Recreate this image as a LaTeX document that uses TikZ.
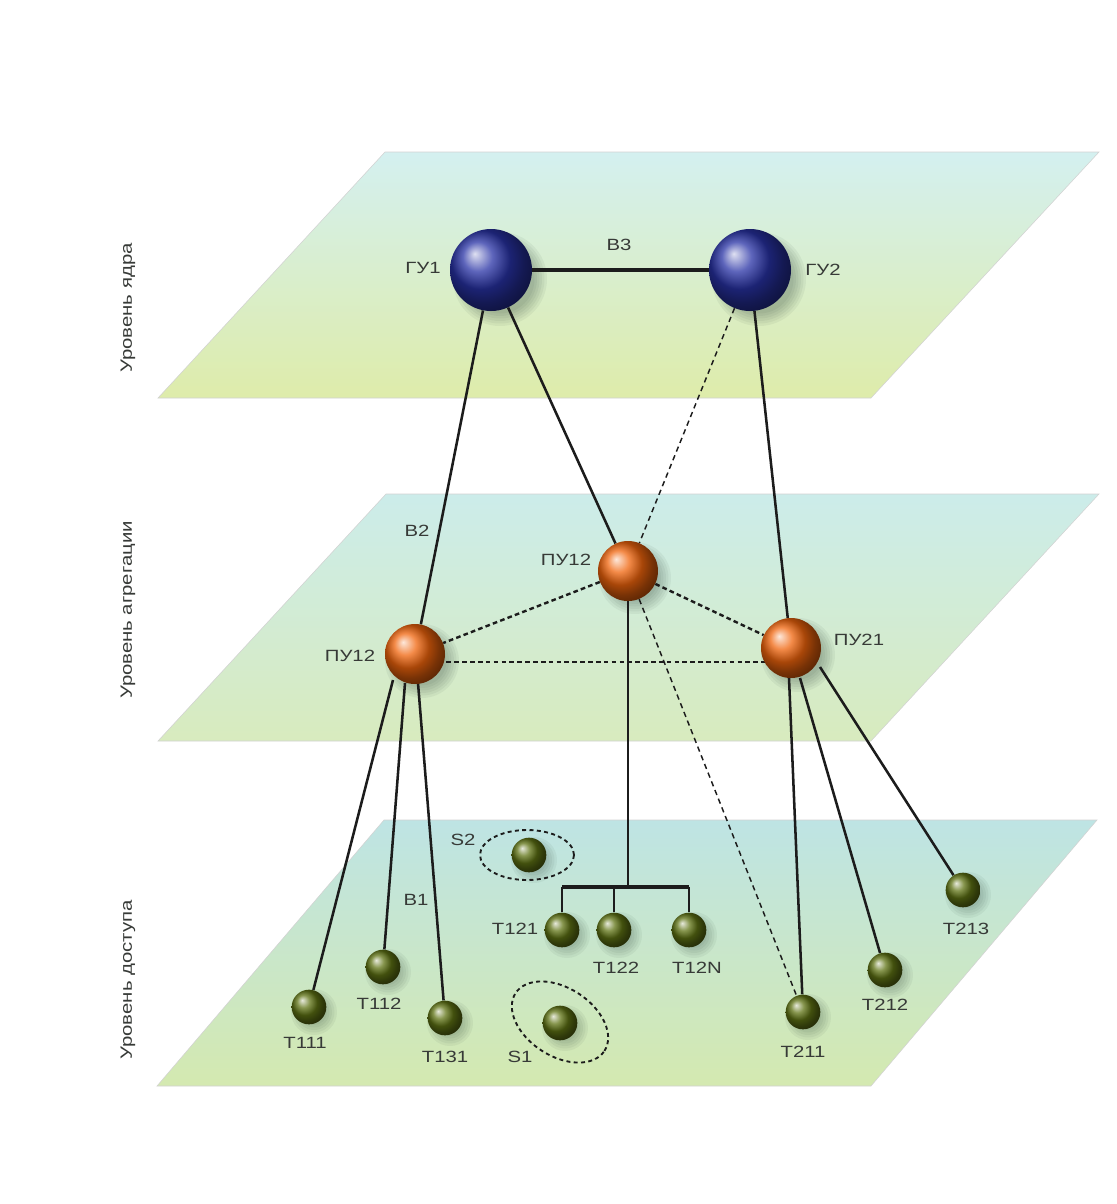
\documentclass[tikz,border=0pt]{standalone}
\usepackage{fontspec}
\setmainfont[FakeStretch=1.25]{Liberation Sans}
\usetikzlibrary{shapes.geometric,calc}
\pgfdeclarelayer{planes}
\pgfdeclarelayer{shadows}
\pgfdeclarelayer{wires}
\pgfsetlayers{planes,shadows,wires,main}
\definecolor{labcol}{RGB}{55,58,55}
\definecolor{linecol}{RGB}{28,28,28}
\definecolor{corecol}{RGB}{40,50,165}
\definecolor{aggcol}{RGB}{240,100,12}
\definecolor{termcol}{RGB}{95,115,20}
\definecolor{shcol}{RGB}{40,60,50}
\definecolor{pAtop}{RGB}{212,240,240}
\definecolor{pAbot}{RGB}{222,236,170}
\definecolor{pBtop}{RGB}{204,236,234}
\definecolor{pBbot}{RGB}{216,235,190}
\definecolor{pCtop}{RGB}{190,228,228}
\definecolor{pCbot}{RGB}{212,233,176}
\begin{document}
\begin{tikzpicture}[x=0.75pt,y=-0.75pt,
  lbl/.style={font=\fontsize{12.2}{14}\selectfont, text=labcol, inner sep=0pt},
  vlbl/.style={lbl, rotate=90},
  core/.style={circle, ball color=corecol, minimum size=61.5pt, inner sep=0pt},
  agg/.style={circle, ball color=aggcol, minimum size=45pt, inner sep=0pt},
  term/.style={circle, ball color=termcol, minimum size=26pt, inner sep=0pt},
  plane/.style={draw=gray!35, line width=0.4pt},
  link/.style={draw=linecol, line width=1.9pt},
  trunk/.style={draw=linecol, line width=2.6pt},
  backup/.style={draw=linecol, line width=1.8pt, dash pattern=on 3.5pt off 2.4pt},
  tdash/.style={draw=linecol, line width=1.1pt, dash pattern=on 4pt off 3pt},
  grp/.style={ellipse, draw=linecol, line width=1.4pt, dash pattern=on 3pt off 2.5pt, inner sep=0pt}
]
\useasboundingbox (0,0) rectangle (1117,1204);

% planes
\begin{pgfonlayer}{planes}
\fill[white] (0,0) rectangle (1117,1204);
\path[plane, top color=pAtop, bottom color=pAbot] (385,152) -- (1099,152) -- (871,398) -- (158,398) -- cycle;
\path[plane, top color=pBtop, bottom color=pBbot] (386,494) -- (1099,494) -- (871,741) -- (158,741) -- cycle;
\path[plane, top color=pCtop, bottom color=pCbot] (384,820) -- (1097,820) -- (871,1086) -- (157,1086) -- cycle;
\end{pgfonlayer}

% level labels
\node[vlbl] (lcore) at (128,308) {Уровень ядра};
\node[vlbl] (lagg) at (128,610) {Уровень агрегации};
\node[vlbl] (lacc) at (128,980) {Уровень доступа};

% spheres
\node[core] (g1) at (491,270) {};
\node[core] (g2) at (750,270) {};
\node[agg] (pu) at (628,571) {};
\node[agg] (pl) at (415,654) {};
\node[agg] (pr) at (791,648) {};
\node[term] (t111) at (309,1007) {};
\node[term] (t112) at (383,967) {};
\node[term] (t131) at (445,1018) {};
\node[term] (s2) at (529,855) {};
\node[term] (t121) at (562,930) {};
\node[term] (t122) at (614,930) {};
\node[term] (t12n) at (689,930) {};
\node[term] (s1) at (560,1023) {};
\node[term] (t211) at (803,1012) {};
\node[term] (t212) at (885,970) {};
\node[term] (t213) at (963,890) {};

% soft shadows
\begin{pgfonlayer}{shadows}
\foreach \n/\r/\d in {g1/41/9, g2/41/9, pu/30/7, pl/31/7, pr/31/7,
  t111/17/5, t112/17/5, t131/17/5, s2/17/5, t121/17/5, t122/17/5, t12n/17/5,
  s1/17/5, t211/17/5, t212/17/5, t213/17/5}{
  \foreach \k in {0,...,5}{
    \fill[shcol, opacity=0.06] ($(\n)+(\d,\d)$) circle ({\r+6-2.5*\k});
  }
}
\end{pgfonlayer}

% groups
\node[grp, minimum width=70.5pt, minimum height=37.5pt] (s2g) at (527,855) {};
\node[grp, minimum width=79.5pt, minimum height=51pt, rotate=-33] (s1g) at (560,1022) {};

% labels
\node[lbl] (lg1) at (423,268) {ГУ1};
\node[lbl] (lg2) at (823,270) {ГУ2};
\node[lbl] (lb3) at (619,245) {В3};
\node[lbl] (lb2) at (417,531) {В2};
\node[lbl] (lpu) at (566,560) {ПУ12};
\node[lbl] (lpl) at (350,656) {ПУ12};
\node[lbl] (lpr) at (859,640) {ПУ21};
\node[lbl] (ls2) at (463,840) {S2};
\node[lbl] (lb1) at (416,900) {В1};
\node[lbl] (lt121) at (515,929) {Т121};
\node[lbl] (lt122) at (616,968) {Т122};
\node[lbl] (lt12n) at (697,968) {Т12N};
\node[lbl] (lt111) at (305,1043) {Т111};
\node[lbl] (lt112) at (379,1004) {Т112};
\node[lbl] (lt131) at (445,1057) {Т131};
\node[lbl] (ls1) at (520,1057) {S1};
\node[lbl] (lt211) at (803,1052) {Т211};
\node[lbl] (lt212) at (885,1005) {Т212};
\node[lbl] (lt213) at (966,929) {Т213};

% connectors
\begin{pgfonlayer}{wires}
\draw[trunk] (g1) -- (g2);
\draw[link] (g1) -- (pl);
\draw[link] (g1) -- (pu);
\draw[link] (g2) -- (pr);
\draw[tdash] (g2) -- (pu);
\draw[backup] (pu) -- (pl);
\draw[backup] (pu) -- (pr);
\draw[backup] ($(pl)+(0,8)$) -- ($(pr)+(0,14)$);
\draw[tdash] (pu) -- (t211);
\coordinate (bus) at (629,887);
\draw[link] (pu) -- (pu |- bus);
\draw[trunk] (t121 |- bus) -- (t12n |- bus);
\draw[link] (t121) -- (t121 |- bus);
\draw[link] (t122) -- (t122 |- bus);
\draw[link] (t12n) -- (t12n |- bus);
\draw[link] ($(pl)+(-22,26)$) -- (t111);
\draw[link] ($(pl)+(-10,29)$) -- (t112);
\draw[link] ($(pl)+(3,29)$) -- (t131);
\draw[link] ($(pr)+(-2,30)$) -- (t211);
\draw[link] ($(pr)+(9,30)$) -- (t212);
\draw[link] ($(pr)+(29,19)$) -- (t213);
\end{pgfonlayer}
\end{tikzpicture}
\end{document}
